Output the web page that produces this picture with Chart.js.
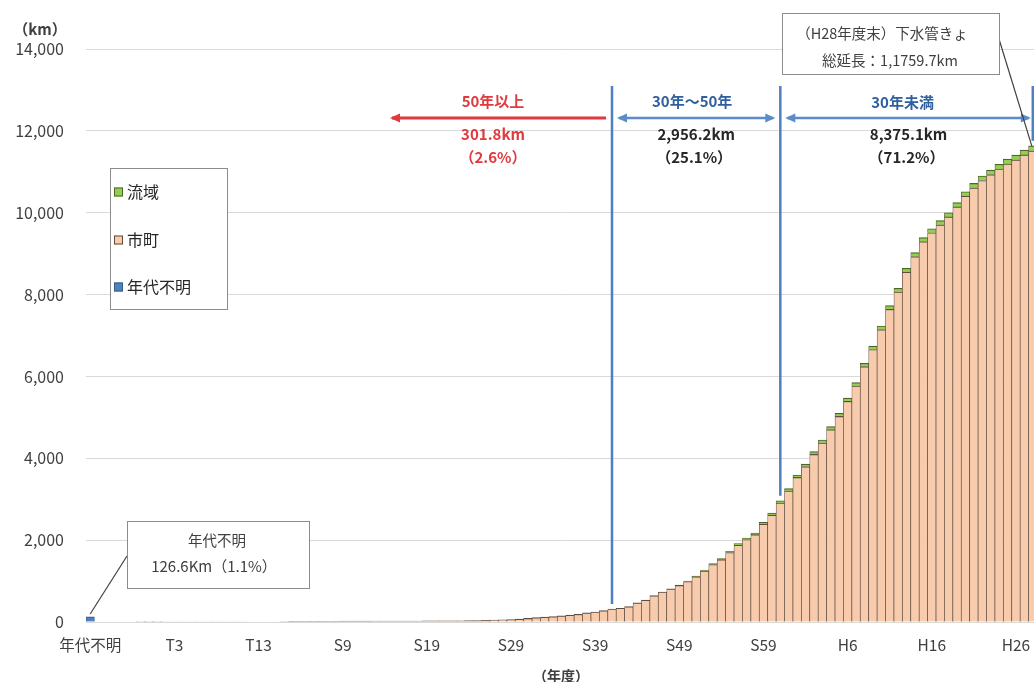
<!DOCTYPE html>
<html>
<head>
<meta charset="utf-8">
<script src="https://cdn.jsdelivr.net/npm/chart.js@4/dist/chart.umd.min.js"></script>
<style>
  html, body { margin: 0; padding: 0; background: #fff; overflow: hidden; }
  #pipes { position: absolute; left: 0; top: 0; }
</style>
</head>
<body>
<canvas id="pipes" width="1040" height="682"></canvas>
<script>
// categories: 年代不明, then fiscal years M39..H28
const years = ['年代不明']
for (let i = 39; i <= 45; i++) years.push('M' + i)
for (let i = 1; i <= 14; i++) years.push('T' + i)
for (let i = 1; i <= 63; i++) years.push('S' + i)
for (let i = 1; i <= 28; i++) years.push('H' + i)

// cumulative length (km)
const unknownKm = [126.6]
const cityKm = [
  null, null, null, null, null, null, 2, 3, 3, 4,
  4, 5, 5, 6, 6, 7, 7, 8, 9, 10,
  10, 11, 12, 13, 14, 15, 16, 17, 18, 19,
  20, 21, 22, 22, 23, 23, 24, 24, 25, 25,
  26, 27, 28, 29, 30, 32, 34, 38, 49, 52,
  58, 72, 88, 105, 120, 132, 152, 170, 188, 225,
  245, 278, 318, 336, 376, 470, 537, 643, 733, 810,
  894, 990, 1109, 1252, 1405, 1523, 1699, 1881, 2016, 2134,
  2391, 2612, 2908, 3201, 3532, 3797, 4095, 4378, 4700, 5024,
  5392, 5767, 6238, 6659, 7146, 7641, 8063, 8549, 8929, 9294,
  9511, 9705, 9898, 10141, 10407, 10609, 10787, 10931, 11068, 11196,
  11292, 11412, 11511
]
const basinKm = [
  null, null, null, null, null, null, null, null, null, null,
  null, null, null, null, null, null, null, null, null, null,
  null, null, null, null, null, null, null, null, null, null,
  null, null, null, null, null, null, null, null, null, null,
  null, null, null, null, null, null, null, null, null, null,
  null, null, null, null, null, null, null, null, null, null,
  null, null, null, null, null, null, null, null, null, null,
  10, 12, 15, 18, 20, 24, 28, 32, 36, 40,
  44, 48, 52, 56, 60, 63, 66, 69, 72, 75,
  78, 80, 82, 84, 86, 88, 90, 92, 94, 96,
  98, 100, 102, 104, 106, 108, 110, 112, 114, 116,
  118, 120, 122
]
const yTicks = [0, 2000, 4000, 6000, 8000, 10000, 12000, 14000]
// where the age bands start (index of S42, S62, H28)
const bandIdx = [62, 82, 112]

const FONT = '"Noto Sans CJK JP", "Noto Sans", sans-serif'
Chart.defaults.font.family = FONT

function arrow(ctx, x1, x2, yy, headLeft, headRight) {
  ctx.beginPath()
  ctx.moveTo(x1, yy)
  ctx.lineTo(x2, yy)
  ctx.stroke()
  const h = 8, w = 4.5
  if (headLeft) {
    ctx.beginPath()
    ctx.moveTo(x1 - 2, yy)
    ctx.lineTo(x1 + h, yy - w)
    ctx.lineTo(x1 + h, yy + w)
    ctx.closePath()
    ctx.fill()
  }
  if (headRight) {
    ctx.beginPath()
    ctx.moveTo(x2 + 2, yy)
    ctx.lineTo(x2 - h, yy - w)
    ctx.lineTo(x2 - h, yy + w)
    ctx.closePath()
    ctx.fill()
  }
}

function text(ctx, s, x, y, font, color) {
  ctx.font = font
  ctx.fillStyle = color
  ctx.textAlign = 'center'
  ctx.textBaseline = 'middle'
  ctx.fillText(s, x, y)
}

const notes = {
  id: 'notes',
  afterDatasetsDraw(chart) {
    const ctx = chart.ctx
    const x = chart.scales.x, y = chart.scales.y
    const total = i => (cityKm[i] || 0) + (basinKm[i] || 0)
    const lx = bandIdx.map(i => x.getPixelForValue(i))
    ctx.save()

    // band lines
    ctx.strokeStyle = '#4f7fc0'
    ctx.lineWidth = 2.5
    bandIdx.forEach((i, k) => {
      ctx.beginPath()
      ctx.moveTo(lx[k], 86)
      ctx.lineTo(lx[k], y.getPixelForValue(total(i)) - 5)
      ctx.stroke()
    })

    // arrows
    ctx.lineWidth = 3
    ctx.strokeStyle = '#e0393e'
    ctx.fillStyle = '#e0393e'
    arrow(ctx, 392, lx[0] - 6, 118, true, false)
    ctx.lineWidth = 2.5
    ctx.strokeStyle = '#5b8cc8'
    ctx.fillStyle = '#5b8cc8'
    arrow(ctx, lx[0] + 7, lx[1] - 7, 118, true, true)
    arrow(ctx, lx[1] + 7, lx[2] - 4, 118, true, true)

    const bold = 'bold 15px ' + FONT
    text(ctx, '50年以上', 493, 101, bold, '#e0393e')
    text(ctx, '301.8km', 493, 134, bold, '#e0393e')
    text(ctx, '（2.6%）', 493, 157, bold, '#e0393e')
    const ma = (lx[0] + lx[1]) / 2, mb = (lx[1] + lx[2]) / 2
    text(ctx, '30年～50年', ma - 4, 101, bold, '#2f5f9e')
    text(ctx, '2,956.2km', ma, 134, bold, '#262626')
    text(ctx, '（25.1%）', ma - 2, 157, bold, '#262626')
    text(ctx, '30年未満', mb - 4, 102, bold, '#2f5f9e')
    text(ctx, '8,375.1km', mb + 2, 134, bold, '#262626')
    text(ctx, '（71.2%）', mb, 157, bold, '#262626')

    // callout boxes
    ctx.lineWidth = 1.2
    ctx.strokeStyle = '#404040'
    ctx.beginPath()
    ctx.moveTo(999, 39)
    ctx.lineTo(lx[2] - 1, y.getPixelForValue(total(112)))
    ctx.stroke()
    ctx.beginPath()
    ctx.moveTo(127, 556)
    ctx.lineTo(x.getPixelForValue(0), 614)
    ctx.stroke()

    ctx.fillStyle = '#fff'
    ctx.strokeStyle = '#8c8c8c'
    ctx.lineWidth = 1
    ctx.fillRect(782.5, 13.5, 217, 61)
    ctx.strokeRect(782.5, 13.5, 217, 61)
    ctx.fillRect(127.5, 521.5, 182, 67)
    ctx.strokeRect(127.5, 521.5, 182, 67)
    const reg = '14.5px ' + FONT
    text(ctx, '（H28年度末）下水管きょ', 882, 33, reg, '#404040')
    text(ctx, '総延長：1,1759.7km', 890, 60, reg, '#404040')
    text(ctx, '年代不明', 217, 540, reg, '#404040')
    text(ctx, '126.6Km（1.1%）', 214, 566, '15px ' + FONT, '#404040')

    // legend box
    ctx.fillStyle = '#fff'
    ctx.strokeStyle = '#8c8c8c'
    ctx.fillRect(110.5, 168.5, 117, 141)
    ctx.strokeRect(110.5, 168.5, 117, 141)
    const ly = [192, 240, 287]
    const order = [1, 0, 2]
    order.forEach((d, k) => {
      const ds = chart.data.datasets[d]
      ctx.fillStyle = ds.backgroundColor
      ctx.fillRect(114, ly[k] - 4.5, 9, 9)
      ctx.strokeStyle = ds.borderColor
      ctx.strokeRect(114.5, ly[k] - 4, 8, 8)
      ctx.font = '16px ' + FONT
      ctx.fillStyle = '#262626'
      ctx.textAlign = 'left'
      ctx.textBaseline = 'middle'
      ctx.fillText(ds.label, 127, ly[k])
    })

    // axis titles
    text(ctx, '（km）', 40, 29, 'bold 15px ' + FONT, '#404040')
    text(ctx, '（年度）', 561, 676, 'bold 14px ' + FONT, '#404040')
    ctx.restore()
  }
}

const barBorder = { top: 1.2, left: 0.7, right: 0.7, bottom: 0 }

chart = new Chart(
  document.getElementById('pipes'),
  {
    type: 'bar',
    data: {
      labels: years,
      datasets: [
        {
          label: '市町',
          data: cityKm,
          backgroundColor: '#f8cbad',
          borderColor: '#5e4d40',
          borderWidth: barBorder,
          borderSkipped: 'start'
        },
        {
          label: '流域',
          data: basinKm,
          backgroundColor: '#92d050',
          borderColor: '#4f6228',
          borderWidth: barBorder,
          borderSkipped: 'start'
        },
        {
          label: '年代不明',
          data: unknownKm,
          backgroundColor: '#4f81bd',
          borderColor: '#385d8a',
          borderWidth: barBorder,
          borderSkipped: 'start'
        }
      ]
    },
    options: {
      responsive: false,
      animation: false,
      datasets: { bar: { categoryPercentage: 1, barPercentage: 1 } },
      layout: { autoPadding: false, padding: { top: 49, right: 3, left: 0, bottom: 0 } },
      plugins: { legend: { display: false }, tooltip: { enabled: false } },
      scales: {
        x: {
          stacked: true,
          grid: { display: false, drawTicks: false },
          border: { display: false },
          afterFit: s => { s.height = 60; s.paddingLeft = 0; s.paddingRight = 0 },
          ticks: {
            autoSkip: false,
            maxRotation: 0,
            minRotation: 0,
            padding: 14,
            color: '#404040',
            font: { size: 15.5 },
            callback: (v, i) => (i % 10 === 0 ? years[i] : '')
          }
        },
        y: {
          stacked: true,
          min: 0,
          max: 14000,
          afterFit: s => { s.width = 86; s.paddingTop = 0; s.paddingBottom = 0 },
          afterBuildTicks: s => { s.ticks = yTicks.map(v => ({ value: v })) },
          grid: { color: '#d9d9d9', lineWidth: 1, drawTicks: false },
          border: { display: false },
          ticks: {
            padding: 22,
            color: '#404040',
            font: { size: 16 },
            callback: v => v.toLocaleString('en-US')
          }
        }
      }
    },
    plugins: [notes]
  }
);
</script>
</body>
</html>
